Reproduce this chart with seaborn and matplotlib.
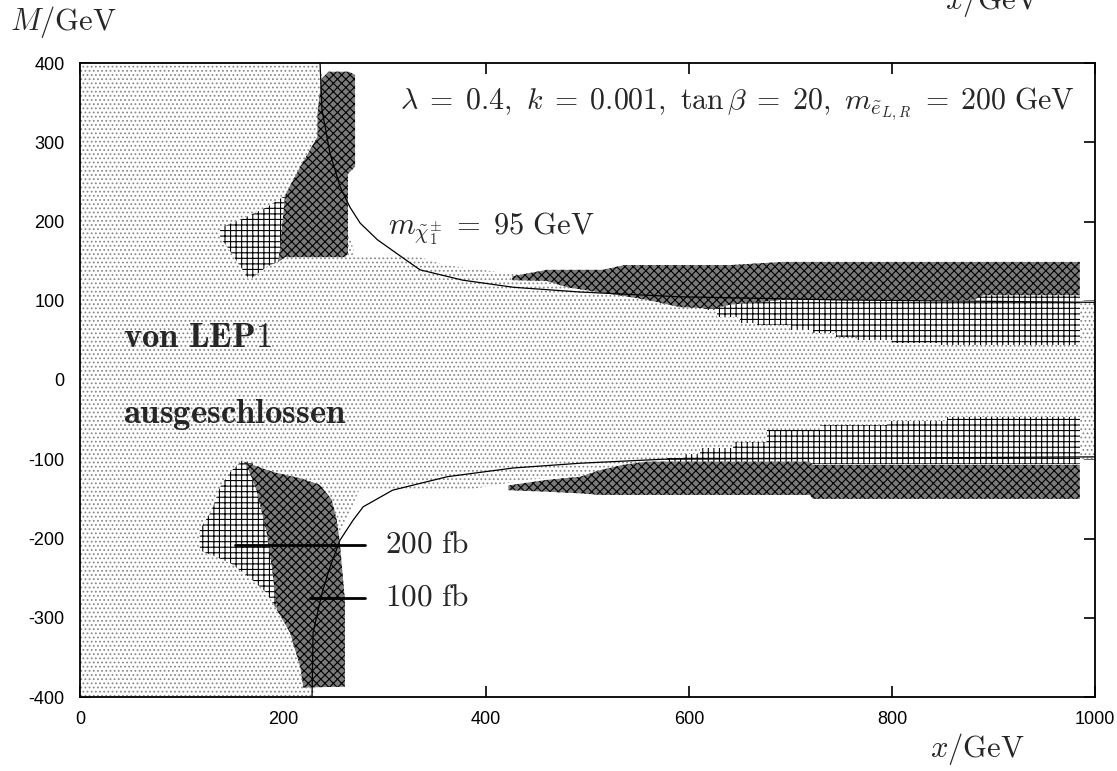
import matplotlib
matplotlib.use("Agg")
import matplotlib.pyplot as plt
import seaborn as sns
import pandas as pd

# ---------------- data ----------------
# m_chargino = 95 GeV contour, upper (M>0) and lower (M<0) branches
curve_up_x = [236.5, 238.4, 246.3, 256.2, 266, 276, 293, 315, 335, 377, 427, 493, 591, 750, 1000]
curve_up_M = [400, 341, 286, 244, 218, 198, 177, 157, 139, 126, 117, 111, 105, 101, 98]
curve_lo_x = [228.6, 229.6, 238.4, 246.3, 256.2, 269, 279, 308, 362, 427, 493, 574, 1000]
curve_lo_M = [-400, -319, -269, -236, -202, -177, -160, -139, -122, -111, -105, -100, -97]

# region excluded by LEP1 (outline)
lep1_x = [0, 237, 245, 262, 271, 335, 360, 420, 600, 1000, 1000, 560, 500, 440, 380, 275, 255, 240, 230, 0]
lep1_M = [400, 400, 300, 200, 157, 155, 145, 135, 112, 100, -100, -103, -120, -126, -139, -139, -200, -300, -400, -400]

# 200 fb^-1 discovery regions
ul200_x = [138, 161, 184, 200, 210, 205, 195, 184, 167, 145, 138]
ul200_M = [192, 204, 218, 231, 231, 160, 149, 143, 126, 168, 180]
ll200_x = [160, 148, 138, 130, 118, 118, 130, 148, 167, 184, 192, 196, 190, 170]
ll200_M = [-101, -116, -135, -164, -189, -215, -221, -231, -249, -269, -286, -290, -200, -105]
ur200_x = [601, 615, 628, 650, 667, 700, 722, 745, 766, 800, 847, 985]
ur200_lo = [95, 88, 80, 72, 69, 63, 59, 54, 50, 47, 44, 44]
ur200_hi = [110, 110, 110, 110, 110, 110, 110, 110, 110, 110, 110, 110]
lr200_x = [578, 595, 611, 643, 677, 729, 795, 854, 985]
lr200_hi = [-98, -93, -86, -78, -63, -57, -52, -47, -47]
lr200_lo = [-106, -106, -106, -106, -106, -106, -106, -106, -106]

# 100 fb^-1 discovery regions
ul100_x = [195, 197, 202, 217, 234, 234, 238, 245, 265, 271, 271, 264, 264, 261, 202]
ul100_M = [149, 165, 233, 269, 307, 337, 380, 389, 389, 385, 269, 260, 160, 155, 155]
ll100_x = [161, 190, 217, 236, 248, 253, 256, 261, 261, 220, 217, 207, 194, 189, 184, 174, 165]
ll100_M = [-103, -116, -124, -132, -151, -177, -206, -278, -387, -388, -362, -319, -290, -236, -193, -139, -110]
ur100_x = [426, 460, 480, 515, 536, 559, 591, 625, 640, 692, 880, 890, 985]
ur100_hi = [131, 139, 139, 139, 145, 145, 145, 145, 145, 149, 149, 149, 149]
ur100_lo = [126, 125, 117, 110, 106, 101, 92, 90, 95, 101, 101, 107, 107]
lr100_x = [422, 460, 493, 512, 535, 559, 719, 722, 985]
lr100_hi = [-133, -126, -122, -114, -107, -103, -103, -107, -107]
lr100_lo = [-139, -141, -143, -145, -145, -145, -145, -150, -150]

# luminosity label pointers
lum_labels = ["200 fb", "100 fb"]
lum_M = [-208, -275]
lum_x0 = [153, 227]
lum_x1 = [281, 281]

xticks = [0, 200, 400, 600, 800, 1000]
yticks = [-400, -300, -200, -100, 0, 100, 200, 300, 400]

# ---------------- style ----------------
sns.set_theme(style="ticks")
plt.rcParams["font.family"] = ["Liberation Sans", "DejaVu Sans"]
plt.rcParams["mathtext.fontset"] = "cm"
plt.rcParams["hatch.linewidth"] = 0.8
plt.rcParams["axes.unicode_minus"] = False

fig = plt.figure(figsize=(11.17, 7.71), dpi=100)
ax = fig.add_axes([80 / 1117, 1 - 697 / 771, 1015 / 1117, 634 / 771])
ax.set_facecolor("white")

DOT = "#8a8a8a"
DARK_FACE = "#7a7a7a"

# LEP1 region: light dotted
ax.fill(lep1_x, lep1_M, facecolor="white", edgecolor=DOT, hatch="....", linewidth=0, zorder=1)

# 200 fb regions: square grid
for xs, ms in [(ul200_x, ul200_M), (ll200_x, ll200_M)]:
    ax.fill(xs, ms, facecolor="white", edgecolor="black", hatch="+++", linewidth=0, zorder=2)
ax.fill_between(ur200_x, ur200_lo, ur200_hi, step="post", facecolor="white",
                edgecolor="black", hatch="+++", linewidth=0, zorder=2)
ax.fill_between(lr200_x, lr200_lo, lr200_hi, step="post", facecolor="white",
                edgecolor="black", hatch="+++", linewidth=0, zorder=2)

# 100 fb regions: dark diamonds
for xs, ms in [(ul100_x, ul100_M), (ll100_x, ll100_M)]:
    ax.fill(xs, ms, facecolor=DARK_FACE, edgecolor="black", hatch="xxxx", linewidth=0, zorder=3)
ax.fill_between(ur100_x, ur100_lo, ur100_hi, facecolor=DARK_FACE,
                edgecolor="black", hatch="xxxx", linewidth=0, zorder=3)
ax.fill_between(lr100_x, lr100_lo, lr100_hi, facecolor=DARK_FACE,
                edgecolor="black", hatch="xxxx", linewidth=0, zorder=3)

# chargino mass contour
df_up = pd.DataFrame({"x": curve_up_x, "M": curve_up_M})
df_lo = pd.DataFrame({"x": curve_lo_x, "M": curve_lo_M})
sns.lineplot(data=df_up, x="x", y="M", sort=False, estimator=None, color="black", lw=0.9, ax=ax, zorder=4)
sns.lineplot(data=df_lo, x="x", y="M", sort=False, estimator=None, color="black", lw=0.9, ax=ax, zorder=4)

# pointer lines + labels
for lab, m, x0, x1 in zip(lum_labels, lum_M, lum_x0, lum_x1):
    ax.plot([x0, x1], [m, m], color="black", lw=2.0, zorder=5)
    num, unit = lab.split()
    ax.text(300, m, rf"${num}\ \mathrm{{{unit}}}$", fontsize=22.5, va="center", ha="left", zorder=6)

ax.text(303, 184, r"$m_{\tilde{\chi}_1^{\pm}}\;=\;95\ \mathrm{GeV}$", fontsize=22, va="baseline", ha="left", zorder=6)
ax.text(980, 348,
        r"$\lambda\;=\;0.4,\ k\;=\;0.001,\ \tan\beta\;=\;20,\ m_{\tilde{e}_{L,R}}\;=\;200\ \mathrm{GeV}$",
        fontsize=21.5, va="center", ha="right", zorder=6)
ax.text(42, 53, r"$\mathbf{von\ LEP1}$", fontsize=25, va="center", ha="left", zorder=6)
ax.text(42, -44, r"$\mathbf{ausgeschlossen}$", fontsize=25, va="center", ha="left", zorder=6)

ax.set_xlim(0, 1000)
ax.set_ylim(-400, 400)
ax.set_xticks(xticks)
ax.set_yticks(yticks)
ax.set_xlabel("")
ax.set_ylabel("")
ax.tick_params(direction="in", length=8, width=1.2, top=True, right=True,
               labelsize=13, colors="black")
ax.tick_params(axis="y", pad=11)
ax.tick_params(axis="x", pad=10)
for s in ax.spines.values():
    s.set_linewidth(1.3)
    s.set_color("black")
    s.set_zorder(10)

fig.text(10 / 1117, 1 - 30 / 771, r"$M/\mathrm{GeV}$", fontsize=22, ha="left", va="baseline")
fig.text(1025 / 1117, 1 - 757 / 771, r"$x/\mathrm{GeV}$", fontsize=22, ha="right", va="baseline")
fig.text(1040 / 1117, 1 - 9 / 771, r"$x/\mathrm{GeV}$", fontsize=22, ha="right", va="baseline")

fig.savefig("out.png", dpi=100, facecolor="white")
